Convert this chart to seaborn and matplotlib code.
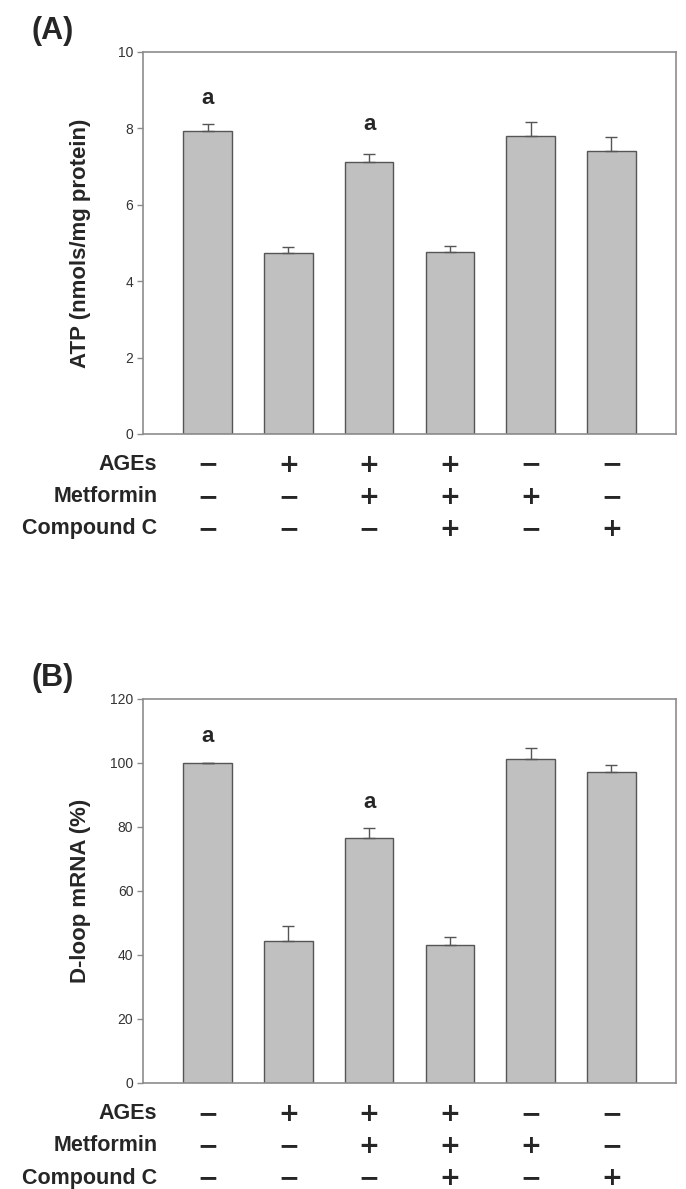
import numpy as np
import pandas as pd
import matplotlib
matplotlib.use("Agg")
import matplotlib.pyplot as plt
import seaborn as sns

groups = ["G1", "G2", "G3", "G4", "G5", "G6"]
atp_mean = [7.94, 4.75, 7.13, 4.77, 7.80, 7.40]
atp_err = [0.17, 0.15, 0.20, 0.16, 0.37, 0.37]
dloop_mean = [100.0, 44.3, 76.5, 43.0, 101.1, 97.2]
dloop_err = [0.0, 4.7, 3.1, 2.6, 3.5, 2.1]
ages = ["−", "+", "+", "+", "−", "−"]
metformin = ["−", "−", "+", "+", "+", "−"]
compound_c = ["−", "−", "−", "+", "−", "+"]
row_names = ["AGEs", "Metformin", "Compound C"]
sig_atp = ["a", "", "a", "", "", ""]
sig_dloop = ["a", "", "a", "", "", ""]
atp_ticks = [0, 2, 4, 6, 8, 10]
dloop_ticks = [0, 20, 40, 60, 80, 100, 120]

sns.set_theme(style="white")
plt.rcParams["font.family"] = ["Liberation Sans", "DejaVu Sans"]

fig = plt.figure(figsize=(6.86, 11.89), dpi=100)
axA = fig.add_axes([0.2085, 0.6350, 0.777, 0.3213])
axB = fig.add_axes([0.2085, 0.0892, 0.777, 0.3230])

BAR = "#c0c0c0"
EDGE = "#555555"
SPINE = "#8c8c8c"


def panel(ax, means, errs, ylim, ticks, ylabel, letter, sig, sig_y):
    df = pd.DataFrame({"group": groups, "value": means})
    sns.barplot(data=df, x="group", y="value", ax=ax, color=BAR,
                edgecolor=EDGE, linewidth=1.0, width=0.6, saturation=1,
                errorbar=None)
    x = np.arange(len(groups))
    ax.errorbar(x, means, yerr=[np.zeros(len(errs)), errs], fmt="none",
                ecolor=EDGE, elinewidth=1.0, capsize=4, capthick=1.0)
    ax.set_xlim(-0.8, 5.8)
    ax.set_ylim(*ylim)
    ax.set_yticks(ticks)
    ax.set_yticklabels([str(t) for t in ticks], fontsize=10, color="#333333")
    ax.set_xticks([])
    ax.set_xlabel("")
    ax.set_ylabel(ylabel, fontsize=16, fontweight="bold")
    ax.yaxis.set_label_coords(-0.097, 0.5)
    ax.tick_params(axis="y", length=4, width=1, color=SPINE, pad=3, left=True)
    for s in ax.spines.values():
        s.set_color(SPINE)
        s.set_linewidth(1.2)
    for xi, txt, yy in zip(x, sig, sig_y):
        if txt:
            ax.text(xi, yy, txt, ha="center", va="center", fontsize=16,
                    fontweight="bold")
    tr = ax.get_xaxis_transform()
    rows = [ages, metformin, compound_c]
    for ri, (name, vals) in enumerate(zip(row_names, rows)):
        yy = -0.080 - 0.084 * ri
        ax.text(0.027, yy, name, transform=ax.transAxes, ha="right",
                va="center", fontsize=15.5, fontweight="bold")
        for xi, v in zip(x, vals):
            ax.text(xi, yy, v, transform=tr, ha="center", va="center",
                    fontsize=18, fontweight="bold",
                    family=["DejaVu Sans"])
    fig.text(0.046, ax.get_position().y1 + 0.0175, letter, fontsize=22,
             fontweight="bold", ha="left", va="center")


panel(axA, atp_mean, atp_err, (0, 10), atp_ticks,
      "ATP (nmols/mg protein)", "(A)", sig_atp, [8.79, 0, 8.09, 0, 0, 0])
panel(axB, dloop_mean, dloop_err, (0, 120), dloop_ticks,
      "D-loop mRNA (%)", "(B)", sig_dloop, [108.1, 0, 87.5, 0, 0, 0])

fig.savefig("out.png", dpi=100)
